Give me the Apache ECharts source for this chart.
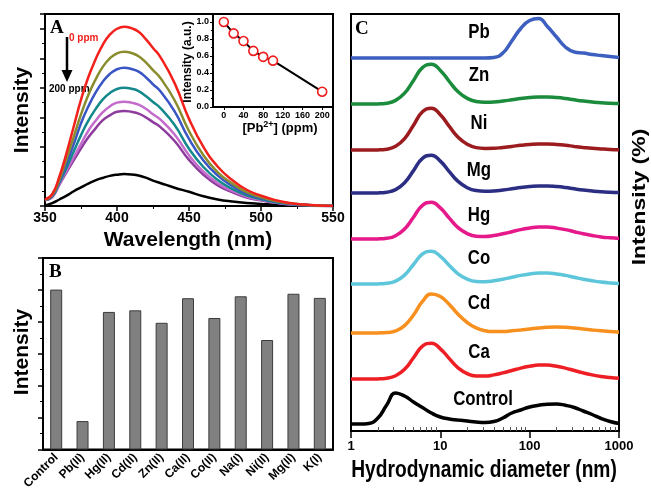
<!DOCTYPE html>
<html>
<head>
<meta charset="utf-8">
<script src="https://cdn.jsdelivr.net/npm/echarts@6/dist/echarts.min.js"></script>
<style>
html, body { margin: 0; padding: 0; background: #fff; }
#main { width: 651px; height: 492px; }
</style>
</head>
<body>
<div id="main"></div>
<script>
// ---- panel A: emission spectra ----
var wavelength = [350, 355, 360, 365, 370, 375, 380, 385, 390, 395, 400, 405, 410, 415, 420, 425, 430, 440, 450, 460, 470, 480, 490, 500, 510, 520, 530, 540, 550];
var specRed    = [0.22, 0.4, 1.0, 1.8, 2.7, 3.6, 4.35, 4.95, 5.45, 5.8, 6.0, 6.07, 6.02, 5.9, 5.65, 5.35, 5.05, 4.16, 2.95, 2.0, 1.33, 0.88, 0.55, 0.35, 0.2, 0.1, 0.05, 0.02, 0];
var specOlive  = [0.2, 0.37, 0.9, 1.6, 2.35, 3.1, 3.75, 4.27, 4.7, 5.0, 5.17, 5.22, 5.18, 5.07, 4.86, 4.6, 4.34, 3.58, 2.54, 1.72, 1.14, 0.76, 0.47, 0.3, 0.17, 0.09, 0.04, 0.02, 0];
var specBlue   = [0.2, 0.35, 0.85, 1.45, 2.1, 2.8, 3.36, 3.83, 4.2, 4.47, 4.63, 4.68, 4.64, 4.55, 4.36, 4.12, 3.89, 3.2, 2.27, 1.54, 1.03, 0.68, 0.42, 0.27, 0.15, 0.08, 0.04, 0.02, 0];
var specTeal   = [0.2, 0.33, 0.8, 1.3, 1.85, 2.4, 2.88, 3.27, 3.6, 3.82, 3.96, 4.0, 3.97, 3.89, 3.72, 3.52, 3.32, 2.74, 1.94, 1.32, 0.88, 0.58, 0.36, 0.23, 0.13, 0.07, 0.03, 0.01, 0];
var specLilac  = [0.2, 0.32, 0.75, 1.2, 1.65, 2.1, 2.54, 2.88, 3.17, 3.37, 3.5, 3.53, 3.5, 3.43, 3.29, 3.11, 2.93, 2.42, 1.72, 1.16, 0.77, 0.51, 0.32, 0.2, 0.12, 0.06, 0.03, 0.01, 0];
var specPurple = [0.2, 0.3, 0.72, 1.15, 1.55, 1.95, 2.32, 2.62, 2.9, 3.07, 3.19, 3.22, 3.19, 3.13, 3.0, 2.84, 2.68, 2.2, 1.56, 1.06, 0.7, 0.47, 0.29, 0.19, 0.11, 0.05, 0.03, 0.01, 0];
var specBlack  = [0.02, 0.1, 0.22, 0.35, 0.5, 0.63, 0.76, 0.87, 0.95, 1.02, 1.06, 1.08, 1.07, 1.03, 0.96, 0.86, 0.78, 0.62, 0.48, 0.33, 0.22, 0.15, 0.1, 0.07, 0.04, 0.02, 0.01, 0, 0];

// inset
var pbConc  = [0, 20, 40, 60, 80, 100, 200];
var pbRatio = [1.0, 0.866, 0.776, 0.66, 0.59, 0.545, 0.18];

// ---- panel B: selectivity ----
var metals = ['Control', 'Pb(II)', 'Hg(II)', 'Cd(II)', 'Zn(II)', 'Ca(II)', 'Co(II)', 'Na(I)', 'Ni(II)', 'Mg(II)', 'K(I)'];
var metalIntensity = [5.01, 0.89, 4.31, 4.36, 3.97, 4.74, 4.12, 4.80, 3.43, 4.88, 4.75];

// ---- panel C: DLS (intensity above each trace's own baseline) ----
var diameter = [1, 1.26, 1.58, 2, 2.51, 3.16, 3.98, 5.01, 6.31, 7.94, 10, 12.6, 15.8, 20, 25.1, 31.6, 39.8, 50.1, 63.1, 79.4, 100, 126, 158, 200, 251, 316, 398, 501, 631, 794, 1000];
var dlsControl = [0, 0, 0.6, 6, 19, 31, 28, 22, 16.5, 11, 7, 5, 4, 3, 2, 1.5, 2.5, 6, 11, 14, 17, 18.7, 19.8, 20, 18.7, 16.5, 13, 9.5, 5.5, 2.5, 0.5];
var dlsCa = [0, 0, 0, 0.1, 0.7, 3.2, 9.7, 21.2, 32.8, 35.7, 30.2, 20.4, 11.2, 5.4, 3, 2.9, 4.1, 6.1, 8.5, 10.9, 12.7, 13.9, 13.9, 12.7, 10.9, 8.5, 6.1, 4.1, 2.5, 1.4, 0.7];
var dlsCd = [0, 0, 0, 0.1, 0.4, 2.1, 7.4, 18, 31.6, 39, 36.4, 28.6, 18.7, 10.5, 5.1, 2.3, 1.4, 1.4, 2.2, 3.1, 4.1, 5.1, 5.8, 6, 5.8, 5.1, 4.1, 3.1, 2.2, 1.4, 0.8];
var dlsCo = [0, 0, 0, 0.1, 0.7, 2.9, 8.9, 19.5, 30, 32.8, 27.7, 18.6, 10.2, 4.9, 2.6, 2.3, 3.2, 4.8, 6.7, 8.6, 10, 10.9, 10.9, 10, 8.6, 6.7, 4.8, 3.2, 1.9, 1.1, 0.6];
var dlsHg = [0, 0, 0, 0.1, 0.7, 3.3, 10, 21.8, 33.7, 36.7, 31.1, 20.8, 11.4, 5.4, 2.8, 2.5, 3.5, 5.2, 7.3, 9.4, 10.9, 11.9, 11.9, 10.9, 9.4, 7.3, 5.2, 3.5, 2.1, 1.2, 0.6];
var dlsMg = [0, 0, 0, 0.1, 0.8, 3.4, 10.3, 22.4, 34.6, 37.7, 31.9, 21.4, 11.6, 5.3, 2.4, 1.7, 2, 3, 4.2, 5.5, 6.4, 6.9, 6.9, 6.4, 5.5, 4.2, 3, 2, 1.2, 0.7, 0.4];
var dlsNi = [0, 0, 0, 0.1, 0.8, 3.7, 11.3, 24.8, 38.2, 41.7, 35.3, 23.6, 12.8, 5.8, 2.4, 1.6, 1.7, 2.6, 3.6, 4.7, 5.5, 5.9, 5.9, 5.5, 4.7, 3.6, 2.6, 1.7, 1.1, 0.6, 0.3];
var dlsZn = [0, 0, 0, 0.1, 0.8, 3.6, 10.8, 23.6, 36.4, 39.7, 33.6, 22.5, 12.2, 5.6, 2.5, 1.7, 2, 3, 4.2, 5.5, 6.4, 6.9, 6.9, 6.4, 5.5, 4.2, 3, 2, 1.2, 0.7, 0.4];
var dlsPb = [0, 0, 0, 0, 0, 0, 0, 0, 0, 0, 0, 0, 0, 0, 0, 0, 0.5, 5, 17, 29.5, 37.5, 39.5, 31.5, 21, 11, 6, 5, 3.5, 2.5, 1.5, 0.5];
var dlsNames = ['Control', 'Ca', 'Cd', 'Co', 'Hg', 'Mg', 'Ni', 'Zn', 'Pb'];
var dlsOffsets = [7, 52, 98, 147, 192, 238, 281, 327, 373];

var FONT = '"Liberation Sans", Arial, sans-serif';
var SERIF = '"Liberation Serif", "DejaVu Serif", serif';

function pairs(xs, ys, off) {
    return xs.map(function (x, i) { return [x, ys[i] + (off || 0)]; });
}

function specLine(data, color) {
    return {
        type: 'line', xAxisIndex: 0, yAxisIndex: 0,
        data: pairs(wavelength, data), smooth: true, showSymbol: false,
        lineStyle: { color: color, width: 2.5 }
    };
}

// condensed-looking text: normal font squeezed along the reading direction
function narrowText(x, y, text, size, rot) {
    return {
        type: 'text', x: x, y: y, scaleX: rot ? 1 : 0.8, scaleY: rot ? 0.8 : 1, rotation: rot || 0,
        style: { text: text, font: 'bold ' + size + 'px ' + FONT, fill: '#000', textAlign: 'center', textVerticalAlign: 'middle' }
    };
}

var dlsSets = [dlsControl, dlsCa, dlsCd, dlsCo, dlsHg, dlsMg, dlsNi, dlsZn, dlsPb];
var dlsColors = ['#000000', '#ed1f24', '#f7901e', '#5ec6da', '#e5198a', '#2b2e83', '#9b1b1f', '#1a8c3c', '#3d5fbf'];
var dlsLabelY = [399, 352, 303, 258, 215, 170, 123, 75, 32];

var series = [
    specLine(specBlack, '#000000'),
    specLine(specPurple, '#8e3b9e'),
    specLine(specLilac, '#c36ccb'),
    specLine(specTeal, '#14898c'),
    specLine(specBlue, '#3a55c4'),
    specLine(specOlive, '#8a8d2e'),
    specLine(specRed, '#f2211c'),
    {
        type: 'line', xAxisIndex: 1, yAxisIndex: 1,
        data: pairs(pbConc, pbRatio),
        symbol: 'circle', symbolSize: 9,
        itemStyle: { color: '#fff', borderColor: '#ee1c1c', borderWidth: 1.6 },
        lineStyle: { color: '#000', width: 2 },
        z: 5
    },
    {
        type: 'bar', xAxisIndex: 2, yAxisIndex: 2,
        data: metalIntensity, barWidth: 12,
        itemStyle: { color: '#808080', borderColor: '#3c3c3c', borderWidth: 1 }
    }
];

var graphics = [
    { type: 'text', x: 50, y: 28, style: { text: 'A', font: 'bold 19px ' + SERIF, fill: '#000', textVerticalAlign: 'middle' } },
    { type: 'text', x: 49, y: 272, style: { text: 'B', font: 'bold 19px ' + SERIF, fill: '#000', textVerticalAlign: 'middle' } },
    { type: 'text', x: 355, y: 29, style: { text: 'C', font: 'bold 19px ' + SERIF, fill: '#000', textVerticalAlign: 'middle' } },
    { type: 'text', x: 69, y: 38, style: { text: '0 ppm', font: 'bold 10px ' + FONT, fill: '#f2211c', textVerticalAlign: 'middle' } },
    { type: 'text', x: 49, y: 89, style: { text: '200 ppm', font: 'bold 10px ' + FONT, fill: '#000', textVerticalAlign: 'middle' } },
    { type: 'line', shape: { x1: 67, y1: 37, x2: 67, y2: 72 }, style: { stroke: '#000', lineWidth: 2.5 } },
    { type: 'polygon', shape: { points: [[61.5, 70], [72.5, 70], [67, 82]] }, style: { fill: '#000' } },
    { type: 'text', x: 22, y: 110, rotation: Math.PI / 2, style: { text: 'Intensity', font: 'bold 21px ' + FONT, fill: '#000', textAlign: 'center', textVerticalAlign: 'middle' } },
    { type: 'text', x: 22, y: 352, rotation: Math.PI / 2, style: { text: 'Intensity', font: 'bold 21px ' + FONT, fill: '#000', textAlign: 'center', textVerticalAlign: 'middle' } },
    { type: 'text', x: 188, y: 240, style: { text: 'Wavelength (nm)', font: 'bold 21px ' + FONT, fill: '#000', textAlign: 'center', textVerticalAlign: 'middle' } },
    { type: 'text', x: 188, y: 62, rotation: Math.PI / 2, style: { text: 'Intensity (a.u.)', font: 'bold 12px ' + FONT, fill: '#000', textAlign: 'center', textVerticalAlign: 'middle' } },
    { type: 'text', x: 280, y: 128, style: { text: '{b|[Pb}{s|2+}{b|] (ppm)}', rich: { b: { font: 'bold 13px ' + FONT, fill: '#000' }, s: { font: 'bold 9px ' + FONT, fill: '#000', verticalAlign: 'top', padding: [0, 0, 6, 0] } }, textAlign: 'center', textVerticalAlign: 'middle' } },
    narrowText(484, 470, 'Hydrodynamic diameter (nm)', 24),
    narrowText(640, 197, 'Intensity (%)', 23, Math.PI / 2)
];

dlsSets.forEach(function (set, k) {
    series.push({
        type: 'line', xAxisIndex: 3, yAxisIndex: 3,
        data: pairs(diameter, set, dlsOffsets[k]), smooth: true, showSymbol: false,
        lineStyle: { color: dlsColors[k], width: 3.5 }
    });
    graphics.push(narrowText(dlsNames[k] === 'Control' ? 483 : 479, dlsLabelY[k], dlsNames[k], 21));
});

var boxLine = { show: true, onZero: false, lineStyle: { color: '#000', width: 2 } };

var option = {
    animation: false,
    backgroundColor: '#fff',
    grid: [
        { left: 45, right: 318, top: 14, height: 192, show: true, borderColor: '#000', borderWidth: 2 },
        { left: 213, right: 318, top: 14, height: 93, show: true, borderColor: '#000', borderWidth: 2, backgroundColor: '#fff' },
        { left: 43, right: 318, top: 258, height: 194, show: true, borderColor: '#000', borderWidth: 2 },
        { left: 351, right: 32, top: 14, height: 417, show: true, borderColor: '#000', borderWidth: 2 }
    ],
    xAxis: [
        {
            gridIndex: 0, type: 'value', min: 350, max: 550, interval: 50,
            axisLine: boxLine, splitLine: { show: false },
            axisTick: { length: 5, lineStyle: { width: 1.5 } },
            minorTick: { show: true, splitNumber: 2, length: 3 },
            axisLabel: { color: '#000', fontWeight: 'bold', fontSize: 14, fontFamily: FONT, margin: 5 }
        },
        {
            gridIndex: 1, type: 'value', min: -22, max: 222,
            axisLine: boxLine, splitLine: { show: false },
            axisTick: { length: 3, customValues: [0, 40, 80, 120, 160, 200] },
            axisLabel: { color: '#000', fontWeight: 'bold', fontSize: 9, fontFamily: FONT, margin: 4, customValues: [0, 40, 80, 120, 160, 200] }
        },
        {
            gridIndex: 2, type: 'category', data: metals,
            axisLine: boxLine,
            axisTick: { alignWithLabel: true, length: 4 },
            axisLabel: { color: '#000', fontWeight: 'bold', fontSize: 12, fontFamily: FONT, rotate: 45, interval: 0, margin: 6 }
        },
        {
            gridIndex: 3, type: 'log', logBase: 10, min: 1, max: 1000,
            axisLine: boxLine, splitLine: { show: false },
            axisTick: { length: 7, lineStyle: { width: 1.5 } },
            axisLabel: { color: '#000', fontWeight: 'bold', fontSize: 13, fontFamily: FONT, margin: 9, formatter: function (v) { return String(Math.round(v)); } }
        },
        {
            gridIndex: 3, type: 'log', logBase: 10, min: 1, max: 1000,
            axisLine: { show: false }, splitLine: { show: false },
            axisTick: { length: 4, customValues: [2, 3, 4, 5, 6, 7, 8, 9, 20, 30, 40, 50, 60, 70, 80, 90, 200, 300, 400, 500, 600, 700, 800, 900] },
            axisLabel: { show: false }
        }
    ],
    yAxis: [
        {
            gridIndex: 0, type: 'value', min: 0, max: 6.5, interval: 1,
            axisLine: boxLine, splitLine: { show: false },
            axisTick: { show: true, length: 5, lineStyle: { width: 1.5 } },
            minorTick: { show: true, splitNumber: 2, length: 3 },
            axisLabel: { show: false }
        },
        {
            gridIndex: 1, type: 'value', min: 0, max: 1.094, interval: 0.2,
            axisLine: boxLine, splitLine: { show: false },
            axisTick: { show: true, length: 3 },
            minorTick: { show: true, splitNumber: 2, length: 2 },
            axisLabel: { color: '#000', fontWeight: 'bold', fontSize: 9, fontFamily: FONT, margin: 4, formatter: function (v) { return v.toFixed(1); } }
        },
        {
            gridIndex: 2, type: 'value', min: 0, max: 6, interval: 1,
            axisLine: boxLine, splitLine: { show: false },
            axisTick: { show: true, length: 5, lineStyle: { width: 1.5 } },
            minorTick: { show: true, splitNumber: 2, length: 3 },
            axisLabel: { show: false }
        },
        {
            gridIndex: 3, type: 'value', min: 0, max: 417,
            axisLine: boxLine, splitLine: { show: false },
            axisTick: { show: false }, axisLabel: { show: false }
        }
    ],
    series: series,
    graphic: graphics
};

echarts.init(document.getElementById('main')).setOption(option);
</script>
</body>
</html>
